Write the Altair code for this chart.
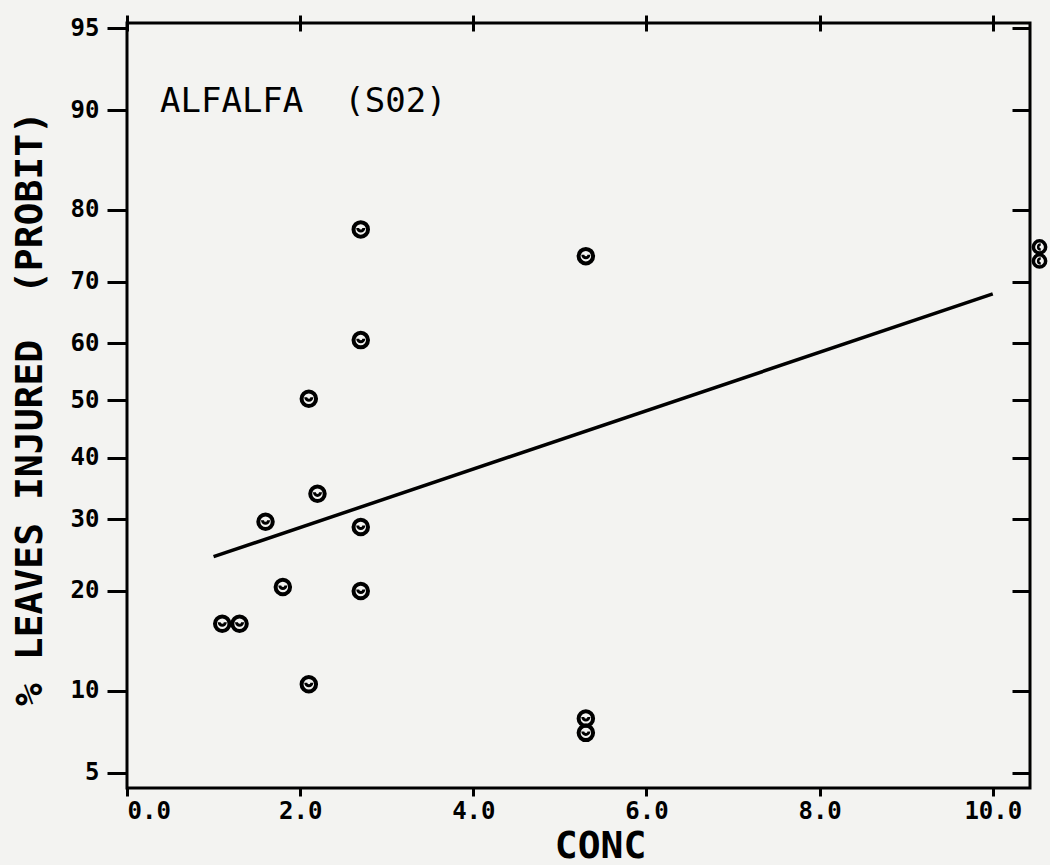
import altair as alt
import pandas as pd
from statistics import NormalDist

nd = NormalDist()

# Observed points (concentration, % leaves injured)
conc = [1.1, 1.3, 1.6, 1.8, 2.1, 2.1, 2.2, 2.7, 2.7, 2.7, 2.7, 5.3, 5.3, 5.3]
pct = [16.2, 16.2, 29.6, 20.5, 50.3, 10.5, 34.0, 77.5, 60.5, 28.8, 20.0, 73.8, 8.0, 7.1]

# Off-scale points drawn past the right edge
off_conc = [10.54, 10.54]
off_pct = [75.1, 73.1]

# Fitted probit line
fit_conc = [1.0, 10.0]
fit_pct = [24.5, 68.1]

y_ticks = [5, 10, 20, 30, 40, 50, 60, 70, 80, 90, 95]
x_ticks = [0, 2, 4, 6, 8, 10]

def probit(p):
    return nd.inv_cdf(p / 100.0)

pts = pd.DataFrame({"conc": conc, "pct": pct, "probit": [probit(p) for p in pct]})
off = pd.DataFrame({"conc": off_conc, "pct": off_pct, "probit": [probit(p) for p in off_pct]})
fit = pd.DataFrame({"conc": fit_conc, "pct": fit_pct, "probit": [probit(p) for p in fit_pct]})
y_tick_vals = [probit(p) for p in y_ticks]

FONT = "DejaVu Sans Mono"
NB = "\u00a0"
xscale = alt.Scale(domain=[0, 10.43], nice=False, zero=False)
yscale = alt.Scale(domain=[-1.712, 1.667], nice=False, zero=False)

label_expr = "format(cumulativeNormal(datum.value) * 100, '.0f')"

left_axis = alt.Axis(
    orient="left", values=y_tick_vals, labelExpr=label_expr,
    tickSize=20, tickWidth=3, tickColor="black", domain=False, grid=False,
    labelFont=FONT, labelFontSize=24, labelFontWeight="bold", labelColor="black",
    labelPadding=8,
    title="%" + NB + "LEAVES" + NB + "INJURED" + NB + NB + "(PROBIT)",
    titleFont=FONT, titleFontSize=38,
    titleFontWeight="bold", titleColor="black", titleX=-97, titleY=385,
    titleAngle=270, titleAlign="center", titleBaseline="middle",
)
bottom_axis = alt.Axis(
    orient="bottom", values=x_ticks, format=".1f",
    tickSize=8, tickWidth=3, tickColor="black", domain=False, grid=False,
    labelFont=FONT, labelFontSize=24, labelFontWeight="bold", labelColor="black",
    labelPadding=3,
    title="CONC", titleFont=FONT, titleFontSize=38, titleFontWeight="bold",
    titleColor="black", titleX=473, titleY=58, titleAlign="center",
    titleBaseline="middle",
)
right_axis = alt.Axis(
    orient="right", values=y_tick_vals, labels=False, domain=False, grid=False,
    tickSize=18, offset=-18, tickWidth=3, tickColor="black", title=None,
)
top_axis = alt.Axis(
    orient="top", values=x_ticks, labels=False, domain=False, grid=False,
    tickSize=16, offset=-8, tickWidth=3, tickColor="black", title=None,
)

inner_path = "M -0.42 -0.2 A 0.42 0.42 0 0 0 0.42 -0.2"

circles = alt.Chart(pts).mark_point(
    shape="circle", filled=False, size=210, strokeWidth=4, color="black", opacity=1
).encode(
    x=alt.X("conc:Q", scale=xscale, axis=bottom_axis),
    y=alt.Y("probit:Q", scale=yscale, axis=left_axis),
)
inner = alt.Chart(pts).mark_point(
    shape=inner_path, filled=False, size=210, strokeWidth=3, color="black", opacity=1
).encode(
    x=alt.X("conc:Q", scale=xscale, axis=None),
    y=alt.Y("probit:Q", scale=yscale, axis=None),
)
off_circles = alt.Chart(off).mark_point(
    shape="circle", filled=False, size=150, strokeWidth=3.5, color="black", opacity=1,
    clip=False,
).encode(
    x=alt.X("conc:Q", scale=xscale, axis=None),
    y=alt.Y("probit:Q", scale=yscale, axis=None),
)
off_inner = alt.Chart(off).mark_point(
    shape=inner_path, filled=False, size=150, strokeWidth=2.5, color="black", opacity=1,
    angle=90, clip=False,
).encode(
    x=alt.X("conc:Q", scale=xscale, axis=None),
    y=alt.Y("probit:Q", scale=yscale, axis=None),
)
line = alt.Chart(fit).mark_line(color="black", strokeWidth=3.5).encode(
    x=alt.X("conc:Q", scale=xscale, axis=top_axis),
    y=alt.Y("probit:Q", scale=yscale, axis=right_axis),
)
label = alt.Chart(pd.DataFrame({"t": ["ALFALFA" + NB + NB + "(S02)"]})).mark_text(
    align="left", baseline="middle", font=FONT, fontSize=34, color="black"
).encode(
    x=alt.value(33), y=alt.value(79), text="t:N"
)

chart = alt.layer(circles, inner, off_circles, off_inner, line, label).resolve_axis(
    x="independent", y="independent"
).properties(
    width=903, height=765, autosize="none",
    padding={"left": 127, "top": 23, "right": 20, "bottom": 77},
    background="#f3f3f1",
).configure_view(stroke="black", strokeWidth=3)

chart.save("out.html", embed_options={"renderer": "svg", "actions": False})
